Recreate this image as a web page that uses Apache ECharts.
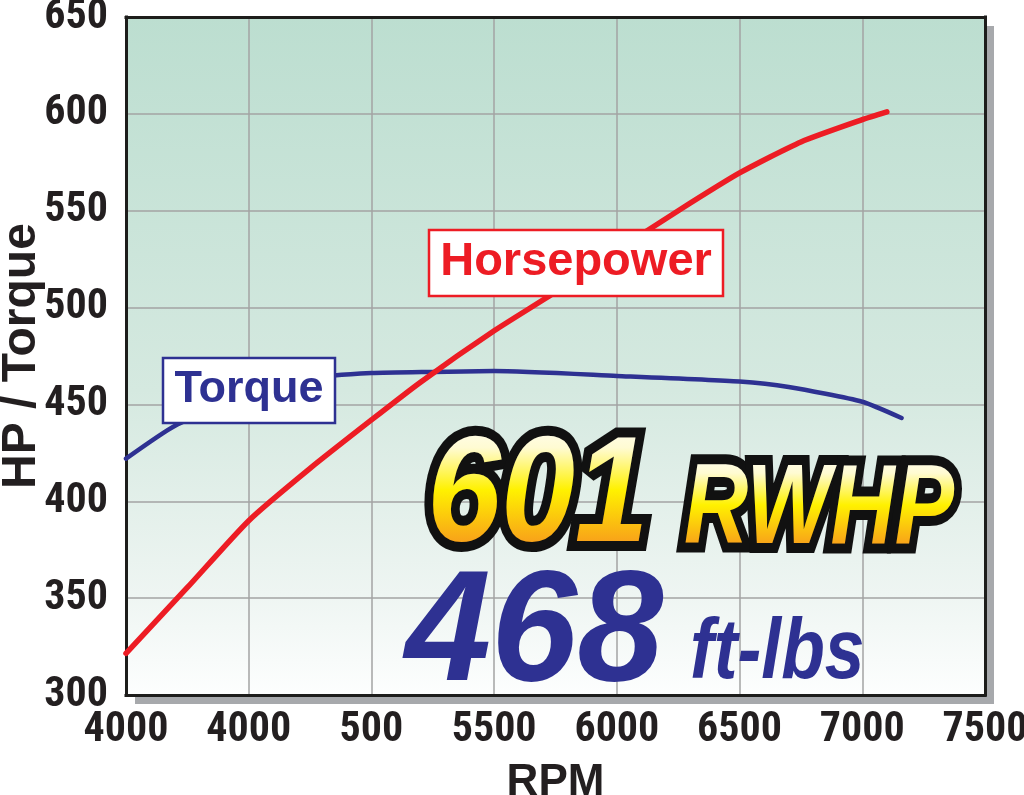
<!DOCTYPE html>
<html><head><meta charset="utf-8">
<script src="https://cdn.jsdelivr.net/npm/echarts@6/dist/echarts.min.js"></script>
<style>html,body{margin:0;padding:0;background:#fff}#c{width:1024px;height:795px}</style>
</head><body><div id="c"></div>
<script>
// ---- data ----
const xTickLabels = ['4000', '4000', '500', '5500', '6000', '6500', '7000', '7500'];
const hpRpm    = [4000, 4250, 4500, 4750, 5000, 5200, 5500, 5750, 6000, 6250, 6500, 6750, 7000, 7100];
const hpValues = [321.5, 355.5, 390, 417, 442, 461.5, 488, 508, 529.5, 550, 569.5, 585.5, 597, 601];
const tqRpm    = [4000, 4200, 4500, 4750, 5000, 5250, 5500, 6000, 6500, 6700, 7000, 7160];
const tqValues = [422, 439, 455, 463.5, 466.2, 466.8, 467.2, 464.7, 461.8, 459, 451.4, 443];
const seriesNames = ['Horsepower', 'Torque'];
const peakHpText = '601';
const peakHpUnit = 'RWHP';
const peakTqText = '468';
const peakTqUnit = 'ft-lbs';

const chart = echarts.init(document.getElementById('c'), null, {renderer: 'canvas'});
const condensed = "'Noto Sans Condensed', 'Roboto Condensed', 'Liberation Sans Narrow', 'DejaVu Sans Condensed', sans-serif";
const sans = "'Liberation Sans', Arial, sans-serif";
const RED = '#ed1c24', BLUE = '#2e3192', INK = '#231f20';
const GOLD = '#ffe100';
const G = echarts.graphic;

function goldGradient() {
  return new G.LinearGradient(0, 0, 0, 1, [
    {offset: 0, color: '#fffdeb'},
    {offset: 0.16, color: '#fffbd2'},
    {offset: 0.5, color: '#fff100'},
    {offset: 1, color: '#f7931e'}
  ]);
}

function bigText(text, x, y, size, sx, fill, outline, layer) {
  const font = 'italic bold ' + size + 'px ' + sans;
  const out = [];
  if (outline) {
    out.push({type: 'text', z: 100, x: x, y: y, scaleX: sx,
      style: {text: text, x: 0, y: 0, align: 'left', verticalAlign: 'middle', font: font,
        fill: '#111', stroke: '#111', lineWidth: 20, lineJoin: 'round'}});
  }
  const t = {type: 'text', z: 101, x: x, y: y, scaleX: sx,
    style: {text: text, x: 0, y: 0, align: 'left', verticalAlign: 'middle', font: font, fill: fill}};
  if (layer) t.zlevel = layer;
  out.push(t);
  return out;
}
// gradient "paint" laid only over the gold glyphs (same layer, source-atop)
function goldPaint(x, y, w, h) {
  return {type: 'rect', zlevel: 1, z: 102, silent: true, shape: {x: x, y: y, width: w, height: h},
    style: {fill: goldGradient(), blend: 'source-atop'}};
}

const frameLine = {show: true, lineStyle: {color: '#1d1d1b', width: 3, cap: 'square'}};

const option = {
  backgroundColor: '#ffffff',
  animation: false,
  grid: {
    left: 126, right: 39, top: 17, bottom: 100,
    containLabel: false, outerBoundsMode: 'none',
    show: true, borderWidth: 0,
    backgroundColor: new G.LinearGradient(0, 0, 0, 1, [
      {offset: 0, color: '#bcded0'},
      {offset: 0.55, color: '#d5e9e0'},
      {offset: 0.85, color: '#eef5f2'},
      {offset: 1, color: '#fdfefe'}
    ]),
    shadowColor: '#a7a9ac', shadowBlur: 0, shadowOffsetX: 9, shadowOffsetY: 9
  },
  xAxis: [{
    type: 'value', min: 4000, max: 7500, interval: 500, position: 'bottom',
    name: 'RPM', nameLocation: 'middle', nameGap: 66, nameMoveOverlap: false,
    nameTextStyle: {fontFamily: sans, fontWeight: 'bold', fontSize: 44, color: INK},
    axisLine: frameLine, axisTick: {show: false},
    axisLabel: {
      margin: 14, color: INK, fontFamily: condensed, fontWeight: 'bold', fontSize: 42,
      formatter: v => xTickLabels[Math.round((v - 4000) / 500)]
    },
    splitLine: {show: true, lineStyle: {color: '#a3a3a3', width: 1.5}}
  }, {
    type: 'value', min: 4000, max: 7500, interval: 500, position: 'top',
    axisLine: frameLine, axisTick: {show: false}, axisLabel: {show: false}, splitLine: {show: false}
  }],
  yAxis: [{
    type: 'value', min: 300, max: 650, interval: 50, position: 'left',
    name: 'HP / Torque', nameLocation: 'middle', nameGap: 80, nameRotate: 90, nameMoveOverlap: false,
    nameTextStyle: {fontFamily: sans, fontWeight: 'bold', fontSize: 48, color: INK},
    axisLine: frameLine, axisTick: {show: false},
    axisLabel: {margin: 18, color: INK, fontFamily: condensed, fontWeight: 'bold', fontSize: 42},
    splitLine: {show: true, lineStyle: {color: '#a3a3a3', width: 1.5}}
  }, {
    type: 'value', min: 300, max: 650, interval: 50, position: 'right',
    axisLine: frameLine, axisTick: {show: false}, axisLabel: {show: false}, splitLine: {show: false}
  }],
  series: [
    {
      name: seriesNames[0], type: 'line', showSymbol: false, smooth: 0.2,
      data: hpRpm.map((r, i) => [r, hpValues[i]]),
      lineStyle: {color: RED, width: 5.5, cap: 'round', join: 'round'}, z: 3
    },
    {
      name: seriesNames[1], type: 'line', showSymbol: false, smooth: 0.2,
      data: tqRpm.map((r, i) => [r, tqValues[i]]),
      lineStyle: {color: BLUE, width: 4.5, cap: 'round', join: 'round'}, z: 2
    }
  ],
  graphic: [
    // Horsepower label box
    {type: 'rect', z: 100, shape: {x: 429, y: 230, width: 294, height: 66},
     style: {fill: '#ffffff', stroke: RED, lineWidth: 2.5}},
    {type: 'text', z: 101, style: {text: seriesNames[0], x: 576, y: 262, align: 'center', verticalAlign: 'middle',
      font: 'bold 47px ' + sans, fill: RED}},
    // Torque label box
    {type: 'rect', z: 100, shape: {x: 163, y: 358, width: 172, height: 65},
     style: {fill: '#ffffff', stroke: BLUE, lineWidth: 2.5}},
    {type: 'text', z: 101, style: {text: seriesNames[1], x: 249, y: 390, align: 'center', verticalAlign: 'middle',
      font: 'bold 45px ' + sans, fill: BLUE}}
  ].concat(
    bigText(peakHpText, 427, 499, 151, 0.88, GOLD, true, 1),
    bigText(peakHpUnit, 684, 512, 114, 0.78, GOLD, true, 1),
    [goldPaint(405, 428, 265, 124), goldPaint(672, 458, 300, 94)],
    bigText(peakTqText, 405, 636, 158, 0.98, BLUE, false),
    bigText(peakTqUnit, 690, 654, 86, 0.83, BLUE, false)
  )
};
chart.setOption(option);
</script>
</body></html>
